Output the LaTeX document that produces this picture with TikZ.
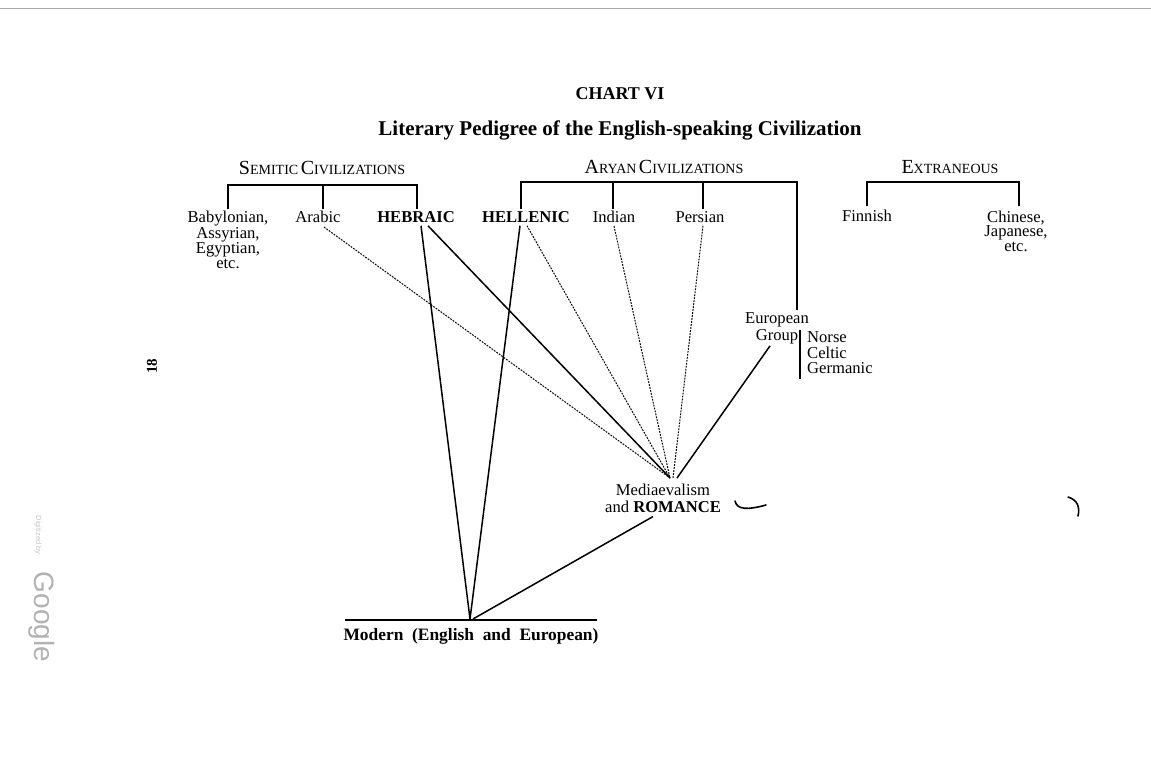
\documentclass[tikz,border=0pt]{standalone}
\usepackage{fontspec}
\setmainfont{Liberation Serif}
\newfontfamily\wmfont{Liberation Sans}
\tikzset{
  lbl/.style={inner sep=0pt, font=\fontsize{16.6}{14.5}\selectfont, align=center},
  lblb/.style={inner sep=0pt, font=\fontsize{16.6}{14.5}\selectfont\bfseries, align=center},
  hdr/.style={inner sep=0pt},
  br/.style={line width=1.7pt},
  solidln/.style={line width=1.5pt},
  dotln/.style={line width=1pt, dash pattern=on 1.8pt off 1.2pt},
  handmark/.style={line width=1.6pt, line cap=round}
}
\newcommand{\scx}[2]{{\fontsize{20}{20}\selectfont #1}{\fontsize{14}{14}\selectfont #2}}
\begin{document}
\begin{tikzpicture}[x=1pt,y=-1pt]
\useasboundingbox (0,0) rectangle (1151,763);
\fill[white] (0,0) rectangle (1151,763);
\draw[gray!70, line width=1pt] (0,8) -- (1151,8);

% headings
\node[hdr, font=\fontsize{18}{18}\selectfont\bfseries] (chart) at (620,94) {CHART VI};
\node[hdr, font=\fontsize{21}{21}\selectfont\bfseries] (title) at (620,130) {Literary Pedigree of the English-speaking Civilization};
\node[hdr] (semitic) at (322,168) {\scx{S}{EMITIC} \scx{C}{IVILIZATIONS}};
\node[hdr] (aryan) at (664,167) {\scx{A}{RYAN} \scx{C}{IVILIZATIONS}};
\node[hdr] (extran) at (950,167) {\scx{E}{XTRANEOUS}};

% labels
\node[lbl] (bab) at (228,240) {Babylonian,\\Assyrian,\\Egyptian,\\etc.};
\node[lbl] (arabic) at (318,217) {Arabic};
\node[lblb] (hebraic) at (416,217) {HEBRAIC};
\node[lblb] (hellenic) at (526,217) {HELLENIC};
\node[lbl] (indian) at (614,217) {Indian};
\node[lbl] (persian) at (700,217) {Persian};
\node[lbl] (finnish) at (867,216) {Finnish};
\node[lbl] (chinese) at (1016,231) {Chinese,\\Japanese,\\etc.};
\node[lbl, font=\fontsize{16.6}{17}\selectfont] (european) at (777,328) {European\\Group};
\node[lbl, align=left, anchor=west, font=\fontsize{16.6}{15.5}\selectfont] (norse) at (807,353) {Norse\\Celtic\\Germanic};
\node[lbl, font=\fontsize{16.6}{17}\selectfont] (med) at (663,498) {Mediaevalism\\and \textbf{ROMANCE}};
\node[lblb, font=\fontsize{17.4}{17}\selectfont\bfseries] (modern) at (471,636) {Modern\ \ (English\ \ and\ \ European)};

\coordinate (medtop) at (670,478);
\coordinate (modtop) at (470,619);

% brackets
\draw[br] (228,209) |- (417,185) -- (417,209);
\draw[br] (323,185) -- (323,209);
\draw[br] (521,209) |- (797,182) -- (797,310);
\draw[br] (613,182) -- (613,209);
\draw[br] (703,182) -- (703,209);
\draw[br] (867,206) |- (1019,182) -- (1019,206);
\draw[line width=1.3pt] (800,330) -- (800,379);
\draw[line width=1.8pt] (345,620) -- (597,620);

% connectors
\draw[dotln] ([xshift=6pt,yshift=-4pt]arabic.south) -- (medtop);
\draw[solidln] ([xshift=5pt,yshift=-3pt]hebraic.south) -- (modtop);
\draw[solidln] ([xshift=12pt,yshift=-3pt]hebraic.south) -- (medtop);
\draw[solidln] ([xshift=-6pt,yshift=-3pt]hellenic.south) -- (modtop);
\draw[dotln] ([xshift=1pt,yshift=-3pt]hellenic.south) -- (medtop);
\draw[dotln] ([yshift=-3pt]indian.south) -- (medtop);
\draw[dotln] ([xshift=3pt,yshift=-3pt]persian.south) -- ([xshift=3pt]medtop);
\draw[solidln] ([xshift=-7pt,yshift=-2pt]european.south) -- ([xshift=7pt]medtop);
\draw[solidln] ([xshift=-10pt,yshift=-4pt]med.south) -- ([xshift=3pt]modtop);

% hand marks
\draw[handmark] (735,501) .. controls (737,510) and (748,510) .. (766,505);
\draw[handmark] (1068,497) .. controls (1078,500) and (1080,508) .. (1078,516);

% page number and watermark
\node[hdr, rotate=90, font=\fontsize{15}{15}\selectfont\bfseries] (pageno) at (152,366) {18};
\node[hdr, rotate=-90, text=gray!45, font=\wmfont\fontsize{7.5}{7.5}\selectfont] (digit) at (38,535) {Digitized by};
\node[hdr, rotate=-90, text=gray!60, font=\wmfont\fontsize{28}{28}\selectfont] (google) at (42,617) {Google};
\end{tikzpicture}
\end{document}
